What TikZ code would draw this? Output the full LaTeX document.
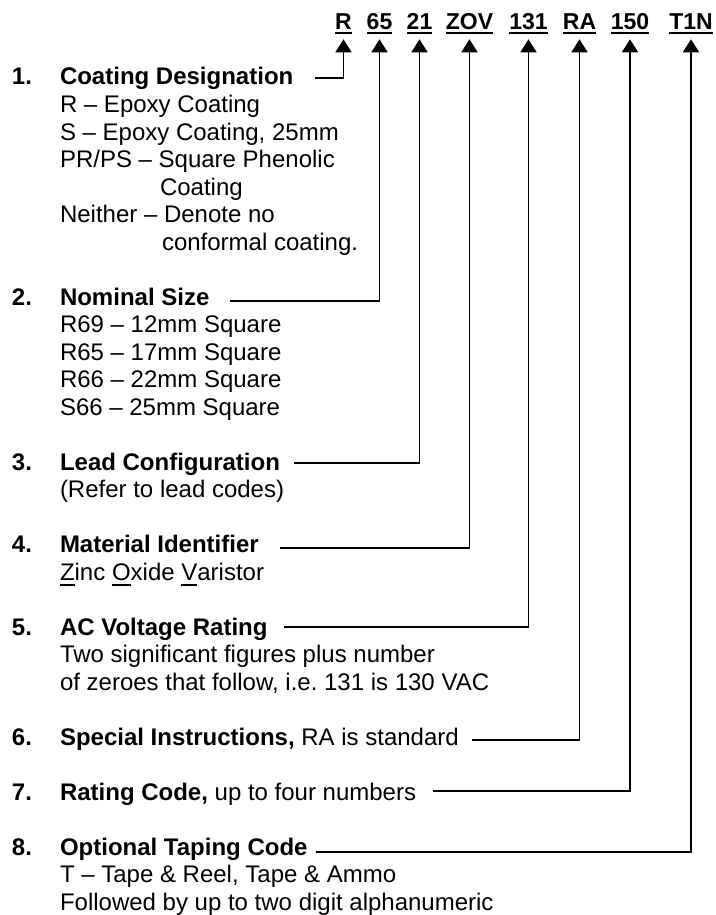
\documentclass[tikz,border=0pt]{standalone}
\usepackage{fontspec}
\setmainfont{Liberation Sans}
\usetikzlibrary{arrows.meta}
\newbox\myulbox
\newcommand\hdul[1]{\setbox\myulbox\hbox{#1}\rlap{\rule[-4.3pt]{\wd\myulbox}{2.4pt}}\box\myulbox}
\newcommand\ltul[1]{\setbox\myulbox\hbox{#1}\rlap{\rule[-6pt]{\wd\myulbox}{1.8pt}}\box\myulbox}
\frenchspacing
\begin{document}
\begin{tikzpicture}[x=1pt,y=-1pt,
  txt/.style={anchor=base west,inner sep=0pt,outer sep=0pt,font=\fontsize{24}{27.5}\selectfont},
  hd/.style={txt,font=\fontsize{24}{27.5}\selectfont\bfseries},
  code/.style={anchor=base,inner sep=0pt,outer sep=0pt,font=\fontsize{23}{27}\selectfont\bfseries},
  conn/.style={line width=1.8pt,-{Triangle[width=16pt,length=13pt]}}]
\useasboundingbox[fill=white] (0,0) rectangle (715,915);

% header codes
\node[code] (hR)   at (343.5,30) {\hdul{R}};
\node[code] (h65)  at (379.5,30) {\hdul{65}};
\node[code] (h21)  at (419.5,30) {\hdul{21}};
\node[code] (hZOV) at (469.5,30) {\hdul{ZOV}};
\node[code] (h131) at (528.5,30) {\hdul{131}};
\node[code] (hRA)  at (579.5,30) {\hdul{RA}};
\node[code] (h150) at (630,30)   {\hdul{150}};
\node[code] (hT1N) at (691,30)   {\hdul{T1N}};

% item 1
\node[hd] (n1) at (12,85) {1.};
\node[hd] (t1) at (60,85) {Coating Designation};
\node[txt] (s11) at (60,112.5) {R – Epoxy Coating};
\node[txt] (s12) at (60,140) {S – Epoxy Coating, 25mm};
\node[txt] (s13) at (60,167.5) {PR/PS – Square Phenolic};
\node[txt] (s14) at (160,195) {Coating};
\node[txt] (s15) at (60,222.5) {Neither – Denote no};
\node[txt] (s16) at (162,250) {conformal coating.};

% item 2
\node[hd] (n2) at (12,305) {2.};
\node[hd] (t2) at (60,305) {Nominal Size};
\node[txt] (s21) at (60,332.5) {R69 – 12mm Square};
\node[txt] (s22) at (60,360) {R65 – 17mm Square};
\node[txt] (s23) at (60,387.5) {R66 – 22mm Square};
\node[txt] (s24) at (60,415) {S66 – 25mm Square};

% item 3
\node[hd] (n3) at (12,470) {3.};
\node[hd] (t3) at (60,470) {Lead Configuration};
\node[txt] (s31) at (60,497.5) {(Refer to lead codes)};

% item 4
\node[hd] (n4) at (12,552.5) {4.};
\node[hd] (t4) at (60,552.5) {Material Identifier};
\node[txt] (s41) at (60,580) {\ltul{Z}inc \ltul{O}xide \ltul{V}aristor};

% item 5
\node[hd] (n5) at (12,635) {5.};
\node[hd] (t5) at (60,635) {AC Voltage Rating};
\node[txt] (s51) at (60,662.5) {Two significant figures plus number};
\node[txt] (s52) at (60,690) {of zeroes that follow, i.e. 131 is 130 VAC};

% item 6
\node[hd] (n6) at (12,745) {6.};
\node[txt] (t6) at (60,745) {\textbf{Special Instructions,} RA is standard};

% item 7
\node[hd] (n7) at (12,800) {7.};
\node[txt] (t7) at (60,800) {\textbf{Rating Code,} up to four numbers};

% item 8
\node[hd] (n8) at (12,855) {8.};
\node[hd] (t8) at (60,855) {Optional Taping Code};
\node[txt] (s81) at (60,882.5) {T – Tape \& Reel, Tape \& Ammo};
\node[txt] (s82) at (60,910) {Followed by up to two digit alphanumeric};

% connector start points
\coordinate (c1) at (315,78);
\coordinate (c2) at (230,301);
\coordinate (c3) at (294,463);
\coordinate (c4) at (280,548);
\coordinate (c5) at (284,627);
\coordinate (c6) at (472,740);
\coordinate (c7) at (433,791);
\coordinate (c8) at (316,852);

\draw[conn] (c1) -| ([yshift=-5pt]hR.south);
\draw[conn] (c2) -| ([yshift=-5pt]h65.south);
\draw[conn] (c3) -| ([yshift=-5pt]h21.south);
\draw[conn] (c4) -| ([yshift=-5pt]hZOV.south);
\draw[conn] (c5) -| ([yshift=-5pt]h131.south);
\draw[conn] (c6) -| ([yshift=-5pt]hRA.south);
\draw[conn] (c7) -| ([yshift=-5pt]h150.south);
\draw[conn] (c8) -| ([yshift=-5pt]hT1N.south);
\end{tikzpicture}
\end{document}
